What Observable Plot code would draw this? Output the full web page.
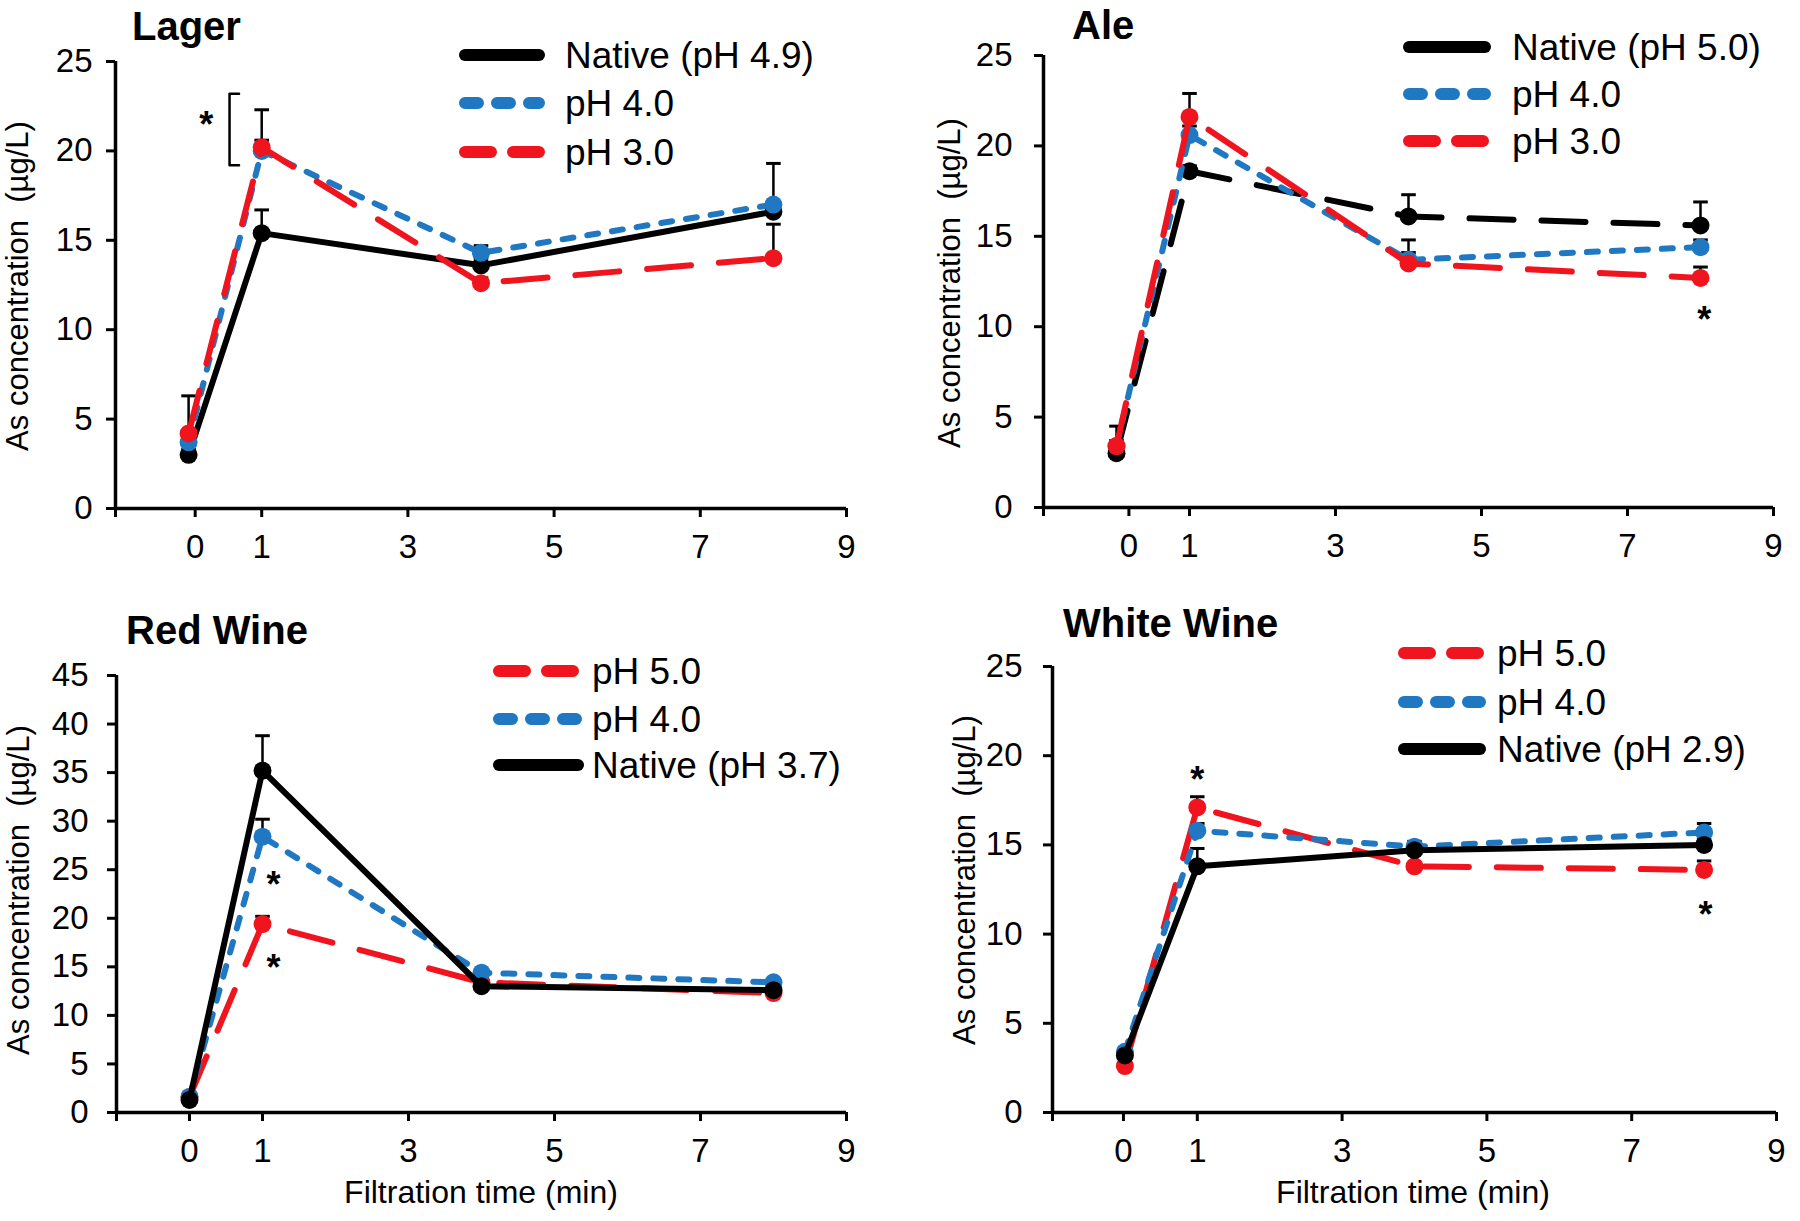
<!DOCTYPE html>
<html>
<head>
<meta charset="utf-8">
<script src="https://cdn.jsdelivr.net/npm/d3@7"></script>
<script src="https://cdn.jsdelivr.net/npm/@observablehq/plot@0.6"></script>
<style>
  html, body { margin: 0; padding: 0; background: #fff; }
  #root { position: relative; width: 1800px; height: 1221px; background: #fff; overflow: hidden; }
  #root > svg { position: absolute; overflow: visible; }
</style>
</head>
<body>
<div id="root"></div>
<script>
// ---------- data ----------
const times = [0, 1, 4, 8];

// Lager
const lagerNative = [3.0, 15.4, 13.6, 16.6];
const lagerNativeErr = [0.3, 1.3, 0.4, 0.5];
const lagerPH40 = [3.7, 20.0, 14.3, 17.0];
const lagerPH40Err = [0.5, 0.6, 0.4, 2.3];
const lagerPH30 = [4.2, 20.2, 12.6, 14.0];
const lagerPH30Err = [2.1, 2.1, 0.3, 1.9];

// Ale
const aleNative = [3.0, 18.6, 16.1, 15.6];
const aleNativeErr = [0.3, 0.3, 1.2, 1.3];
const alePH40 = [3.4, 20.6, 13.7, 14.4];
const alePH40Err = [0.3, 0.5, 0.4, 0.4];
const alePH30 = [3.4, 21.6, 13.5, 12.7];
const alePH30Err = [1.1, 1.3, 1.3, 0.6];

// Red wine
const redPH50 = [1.6, 19.4, 13.4, 12.3];
const redPH50Err = [0.2, 0.8, 0.2, 0.3];
const redPH40 = [1.6, 28.4, 14.4, 13.4];
const redPH40Err = [0.2, 1.8, 0.3, 0.3];
const redNative = [1.3, 35.2, 13.0, 12.6];
const redNativeErr = [0.3, 3.6, 0.3, 0.3];

// White wine
const whitePH50 = [2.6, 17.1, 13.8, 13.6];
const whitePH50Err = [0.2, 0.6, 0.2, 0.5];
const whitePH40 = [3.4, 15.8, 14.9, 15.7];
const whitePH40Err = [0.2, 0.4, 0.3, 0.5];
const whiteNative = [3.2, 13.8, 14.7, 15.0];
const whiteNativeErr = [0.2, 1.0, 0.3, 0.3];

// axis ticks and labels
const xTickLabels = ["", "0", "1", "3", "5", "7", "9"];
const xTickValues = [-1, 0, 1, 3, 5, 7, 9];
const beerYTicks = [0, 5, 10, 15, 20, 25];
const redYTicks = [0, 5, 10, 15, 20, 25, 30, 35, 40, 45];
const whiteYTicks = [0, 5, 10, 15, 20, 25];

// significance marks (x, y in data units)
const lagerStars = [{x: 0.24, y: 22.0}];
const lagerBracket = [{x: 0.56, y1: 19.2, y2: 23.2, arm: 0.13}];
const aleStars = [{x: 8.05, y: 10.9}];
const redStars = [{x: 1.15, y: 24.4}, {x: 1.15, y: 15.9}];
const whiteStars = [{x: 1.0, y: 19.2}, {x: 8.02, y: 11.6}];

// ---------- styles ----------
const FONT = "Liberation Sans, Arial, Helvetica, sans-serif";
const BLUE = "#1f78c1";
const RED = "#f0141e";
const STYLES = {
  black: {stroke: "#000", dash: null, legendDash: null},
  blackDash: {stroke: "#000", dash: "44,28", legendDash: null},
  blue: {stroke: BLUE, dash: "11,14", legendDash: "13,19"},
  red: {stroke: RED, dash: "44,28", legendDash: "26,22"}
};

function series(name, style, values, err) { return {name, style, values, err}; }

const panels = [
  {
    title: "Lager", left: 0, top: 0, width: 900, height: 600,
    margin: {left: 115, right: 54, top: 61, bottom: 92}, yPad: 14,
    yMax: 25, yTicks: beerYTicks, zeroShift: 0.09,
    series: [
      series("Native (pH 4.9)", "black", lagerNative, lagerNativeErr),
      series("pH 4.0", "blue", lagerPH40, lagerPH40Err),
      series("pH 3.0", "red", lagerPH30, lagerPH30Err)
    ],
    stars: lagerStars, bracket: lagerBracket,
    titlePos: [132, 40], legend: {x1: 459, x2: 545, tx: 565, ys: [55, 103, 152]},
    ylab: [28, 286], xlab: null
  },
  {
    title: "Ale", left: 900, top: 0, width: 900, height: 600,
    margin: {left: 143, right: 27, top: 55, bottom: 93}, yPad: 22,
    yMax: 25, yTicks: beerYTicks, zeroShift: 0.17,
    series: [
      series("Native (pH 5.0)", "blackDash", aleNative, aleNativeErr),
      series("pH 4.0", "blue", alePH40, alePH40Err),
      series("pH 3.0", "red", alePH30, alePH30Err)
    ],
    stars: aleStars, bracket: [],
    titlePos: [1072, 39], legend: {x1: 1403, x2: 1491, tx: 1512, ys: [47, 94, 141]},
    ylab: [960, 283], xlab: null
  },
  {
    title: "Red Wine", left: 0, top: 600, width: 900, height: 621,
    margin: {left: 116, right: 54, top: 75, bottom: 109}, yPad: 19,
    yMax: 45, yTicks: redYTicks, zeroShift: 0,
    series: [
      series("pH 5.0", "red", redPH50, redPH50Err),
      series("pH 4.0", "blue", redPH40, redPH40Err),
      series("Native (pH 3.7)", "black", redNative, redNativeErr)
    ],
    stars: redStars, bracket: [],
    titlePos: [126, 644], legend: {x1: 493, x2: 584, tx: 592, ys: [671, 719, 765]},
    ylab: [29, 890], xlab: [481, 1203]
  },
  {
    title: "White Wine", left: 900, top: 600, width: 900, height: 621,
    margin: {left: 152, right: 24, top: 66, bottom: 109}, yPad: 21,
    yMax: 25, yTicks: whiteYTicks, zeroShift: -0.02,
    series: [
      series("pH 5.0", "red", whitePH50, whitePH50Err),
      series("pH 4.0", "blue", whitePH40, whitePH40Err),
      series("Native (pH 2.9)", "black", whiteNative, whiteNativeErr)
    ],
    stars: whiteStars, bracket: [],
    titlePos: [1063, 637], legend: {x1: 1398, x2: 1486, tx: 1497, ys: [653, 702, 749]},
    ylab: [975, 880], xlab: [1413, 1203]
  }
];

const root = document.getElementById("root");
const CAP = 0.1;

function makePanel(p) {
  const tickPos = xTickValues.map(v => v === 0 ? p.zeroShift : v);
  const rows = p.series.flatMap(s => times.map((t, i) => ({x: t, y: s.values[i], e: s.err[i]})));
  const marks = [
    Plot.axisY({ticks: p.yTicks, tickSize: 9, tickPadding: p.yPad, strokeWidth: 3, fontSize: 33, label: null, tickFormat: d => String(d)}),
    Plot.axisX({ticks: tickPos, tickSize: 9, tickPadding: 17, strokeWidth: 3, fontSize: 33, label: null,
      tickFormat: d => xTickLabels[tickPos.indexOf(d)]}),
    Plot.ruleY([0], {stroke: "#000", strokeWidth: 3.5}),
    Plot.ruleX([-1], {stroke: "#000", strokeWidth: 3.5}),
    Plot.ruleX(rows, {x: "x", y1: "y", y2: d => d.y + d.e, stroke: "#000", strokeWidth: 2.5}),
    Plot.link(rows, {x1: d => d.x - CAP, x2: d => d.x + CAP, y1: d => d.y + d.e, y2: d => d.y + d.e, stroke: "#000", strokeWidth: 3})
  ];
  for (const s of p.series) {
    const st = STYLES[s.style];
    const pts = times.map((t, i) => ({x: t, y: s.values[i]}));
    marks.push(Plot.line(pts, {x: "x", y: "y", stroke: st.stroke, strokeWidth: 6,
      strokeDasharray: st.dash || undefined, strokeLinecap: "round", strokeLinejoin: "round"}));
    marks.push(Plot.dot(pts, {x: "x", y: "y", r: 9, fill: st.stroke, stroke: "none"}));
  }
  marks.push(Plot.text(p.stars, {x: "x", y: "y", text: () => "*", fontSize: 36, fontWeight: "bold", fill: "#000", dy: 10}));
  for (const b of p.bracket) {
    const pts = [{x: b.x + b.arm, y: b.y2}, {x: b.x, y: b.y2}, {x: b.x, y: b.y1}, {x: b.x + b.arm, y: b.y1}];
    marks.push(Plot.line(pts, {x: "x", y: "y", stroke: "#000", strokeWidth: 2.5}));
  }
  const svg = Plot.plot({
    width: p.width, height: p.height,
    marginLeft: p.margin.left, marginRight: p.margin.right,
    marginTop: p.margin.top, marginBottom: p.margin.bottom,
    x: {domain: [-1, 9], axis: null},
    y: {domain: [0, p.yMax], axis: null},
    style: {fontFamily: FONT, fontSize: "33px", color: "#000", background: "transparent", overflow: "visible"},
    marks
  });
  svg.style.left = p.left + "px";
  svg.style.top = p.top + "px";
  root.appendChild(svg);
}

panels.forEach(makePanel);

// ---------- overlay: titles, legends, axis labels ----------
const ov = d3.select(root).append("svg")
  .attr("width", 1800).attr("height", 1221)
  .style("left", "0px").style("top", "0px")
  .style("pointer-events", "none")
  .attr("font-family", FONT);

for (const p of panels) {
  ov.append("text").attr("x", p.titlePos[0]).attr("y", p.titlePos[1])
    .attr("font-size", 40).attr("font-weight", "bold").text(p.title);
  p.series.forEach((s, i) => {
    const st = STYLES[s.style];
    const y = p.legend.ys[i];
    ov.append("line").attr("x1", p.legend.x1 + 6).attr("x2", p.legend.x2 - 6)
      .attr("y1", y).attr("y2", y)
      .attr("stroke", st.stroke).attr("stroke-width", 12).attr("stroke-linecap", "round")
      .attr("stroke-dasharray", st.legendDash);
    ov.append("text").attr("x", p.legend.tx).attr("y", y).attr("dy", "0.36em")
      .attr("font-size", 37).text(s.name);
  });
  ov.append("text").attr("transform", `translate(${p.ylab[0]},${p.ylab[1]}) rotate(-90)`)
    .attr("text-anchor", "middle").attr("font-size", 31).attr("xml:space", "preserve")
    .text("As concentration  (µg/L)");
  if (p.xlab) {
    ov.append("text").attr("x", p.xlab[0]).attr("y", p.xlab[1])
      .attr("text-anchor", "middle").attr("font-size", 32).text("Filtration time (min)");
  }
}
</script>
</body>
</html>
